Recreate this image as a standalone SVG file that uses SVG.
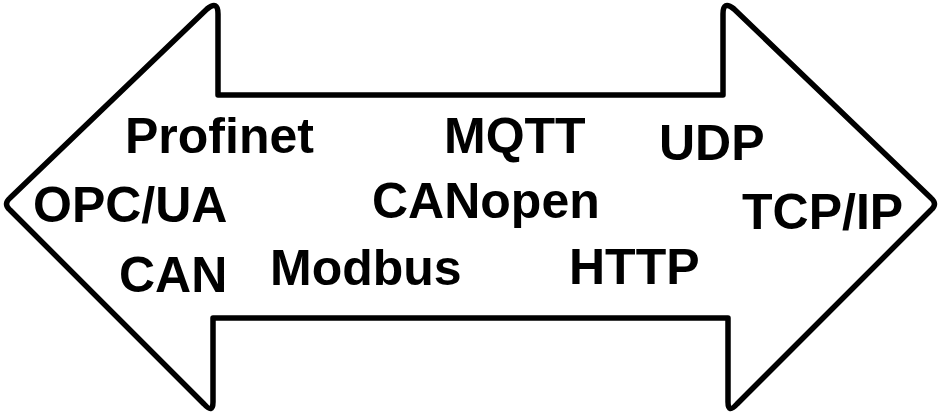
<svg xmlns="http://www.w3.org/2000/svg" width="941" height="416" viewBox="0 0 941 416">
<style>
.lbl{font-family:"Liberation Sans",Arial,sans-serif;font-weight:bold;font-size:50px;fill:#000}
.arrow{fill:#fff;stroke:#000;stroke-width:5.5;stroke-linejoin:round}
</style>
<rect width="941" height="416" fill="#fff"/>
<g id="arrow">
<path class="arrow" d="M 218 95 L 218 14 Q 218 0 207 9 L 10 198 Q 3 204 10 210 L 204 404 Q 213 414 213 402 L 213 318 L 728 318 L 728 402 Q 728 414 737 404 L 931 210 Q 938 204 931 198 L 734 9 Q 723 0 723 14 L 723 95 Z"/>
</g>
<g id="labels">
<text id="profinet" class="lbl" x="125" y="153">Profinet</text>
<text id="opcua" class="lbl" x="33" y="222">OPC/UA</text>
<text id="can" class="lbl" x="119" y="292">CAN</text>
<text id="modbus" class="lbl" x="270" y="285">Modbus</text>
<text id="mqtt" class="lbl" x="444" y="153">MQTT</text>
<text id="canopen" class="lbl" x="372" y="218">CANopen</text>
<text id="udp" class="lbl" x="659" y="160">UDP</text>
<text id="tcpip" class="lbl" x="742" y="229">TCP/IP</text>
<text id="http" class="lbl" x="569" y="284">HTTP</text>
</g>
</svg>
